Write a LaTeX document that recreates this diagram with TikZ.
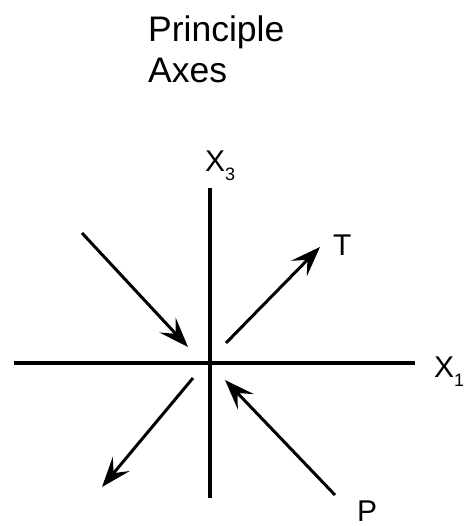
\documentclass[tikz,border=0pt]{standalone}
\usepackage{fontspec}
\setmainfont{Liberation Sans}
\usetikzlibrary{arrows.meta}
\newcommand{\mysub}[1]{\raisebox{-9pt}{\fontsize{18}{18}\selectfont #1}}
\begin{document}
\begin{tikzpicture}[x=1pt,y=-1pt,
  axisline/.style={line width=3.4pt},
  force/.style={line width=3pt,-{Stealth[length=30pt,width=22pt,inset=12pt]}},
  lbl/.style={inner sep=0pt,anchor=base west,font=\fontsize{30}{36}\selectfont},
  ttl/.style={inner sep=0pt,anchor=base west,font=\fontsize{35.5}{42}\selectfont}]
\useasboundingbox (0,0) rectangle (466,526);
\node[ttl] (t1) at (148,42) {Principle};
\node[ttl] (t2) at (148,83) {Axes};
% axes
\coordinate (xl) at (14,363);
\coordinate (xr) at (415,363);
\coordinate (vt) at (210,188);
\coordinate (vb) at (210,498);
\draw[axisline] (xl) -- (xr);
\draw[axisline] (vt) -- (vb);
\node[lbl] (x3) at (205,172) {X\mysub{3}};
\node[lbl] (x1) at (434,377) {X\mysub{1}};
% forces
\coordinate (a1s) at (82,233);
\coordinate (a1e) at (188,347);
\coordinate (a2s) at (226,343);
\coordinate (a2e) at (320,247);
\coordinate (a3s) at (193,378);
\coordinate (a3e) at (102,487);
\coordinate (a4s) at (335,495);
\coordinate (a4e) at (225,380);
\draw[force] (a1s) -- (a1e);
\draw[force] (a2s) -- (a2e);
\draw[force] (a3s) -- (a3e);
\draw[force] (a4s) -- (a4e);
\node[lbl] (T) at (333,255) {T};
\node[lbl] (P) at (357,521) {P};
\end{tikzpicture}
\end{document}
